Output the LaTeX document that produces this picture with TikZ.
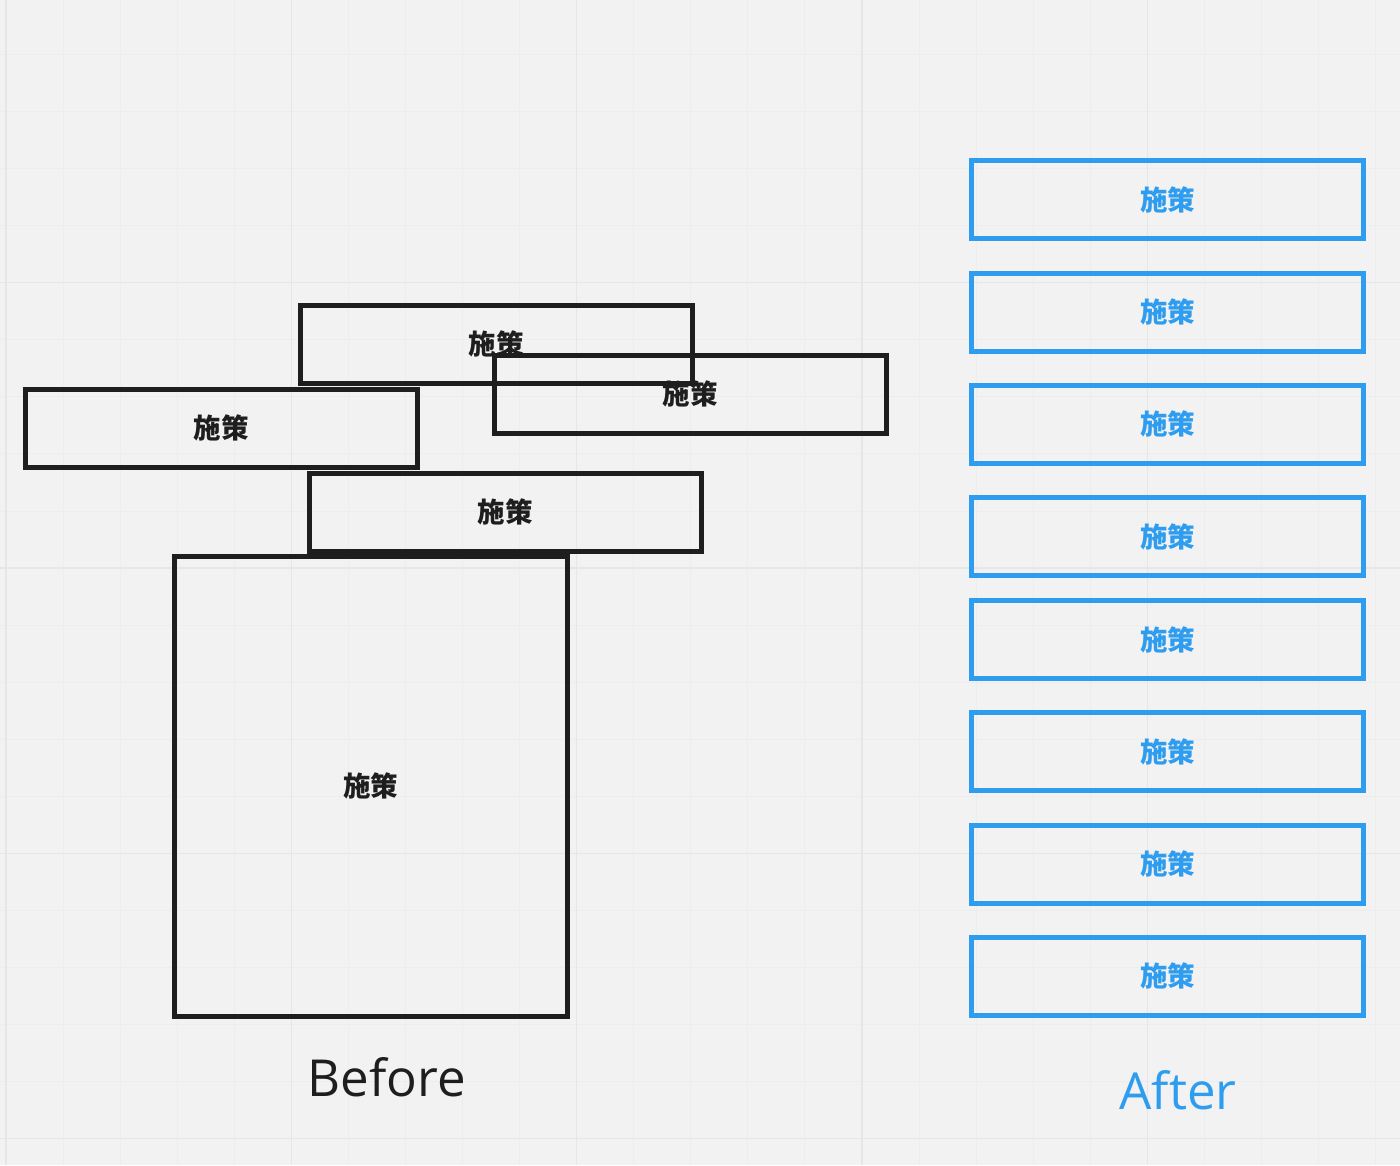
\documentclass[tikz,border=0pt]{standalone}
\usepackage{fontspec}
\setmainfont{Open Sans}
\newfontfamily\cjk{Noto Sans CJK JP}
\definecolor{bgc}{HTML}{F2F2F2}
\definecolor{minorc}{HTML}{EDEDED}
\definecolor{majorc}{HTML}{E6E6E6}
\definecolor{inkc}{HTML}{1E1E1E}
\definecolor{bluec}{HTML}{2F9DEF}
\tikzset{
  minorline/.style={draw=minorc, line width=1pt},
  majorline/.style={draw=majorc, line width=1.4pt},
  boxbase/.style={draw, line width=5pt, inner sep=0pt, minimum width=392pt, minimum height=78pt,
    font=\cjk\bfseries\fontsize{27.5}{32}\selectfont},
  beforebox/.style={boxbase, draw=inkc, text=inkc},
  afterbox/.style={boxbase, draw=bluec, text=bluec},
  caption/.style={font=\fontsize{51}{60}\selectfont, anchor=base, inner sep=0pt}
}
\begin{document}
\begin{tikzpicture}[x=1pt,y=-1pt]
\fill[bgc] (0,0) rectangle (1400,1165);
\useasboundingbox (0,0) rectangle (1400,1165);
% grid
\foreach \i in {0,...,24} \draw[minorline] ({6+\i*57.067},0) -- ++(0,1165);
\foreach \j in {1,...,21} \draw[minorline] (0,{-2.6+\j*57.067}) -- ++(1400,0);
\foreach \i in {0,...,4} \draw[majorline] ({6+\i*285.33},0) -- ++(0,1165);
\foreach \j in {1,...,4} \draw[majorline] (0,{-2.6+\j*285.33}) -- ++(1400,0);
% before
\node[beforebox, minimum width=393pt, minimum height=460pt] (e) at (370.5,786) {施策};
\node[beforebox] (d) at (505,512) {施策};
\node[beforebox] (c) at (221,428) {施策};
\node[beforebox] (a) at (496,344) {施策};
\node[beforebox] (b) at (690,394) {施策};
\node[caption, text=inkc] (before) at (387,1096.7) {Before};
% after
\foreach \y/\n in {199.5/1,312/2,424/3,536.5/4,639.5/5,751.5/6,864/7,976/8}
  \node[afterbox] (f\n) at (1167.8,\y) {施策};
\node[caption, text=bluec] (after) at (1178,1109) {After};
\end{tikzpicture}
\end{document}
